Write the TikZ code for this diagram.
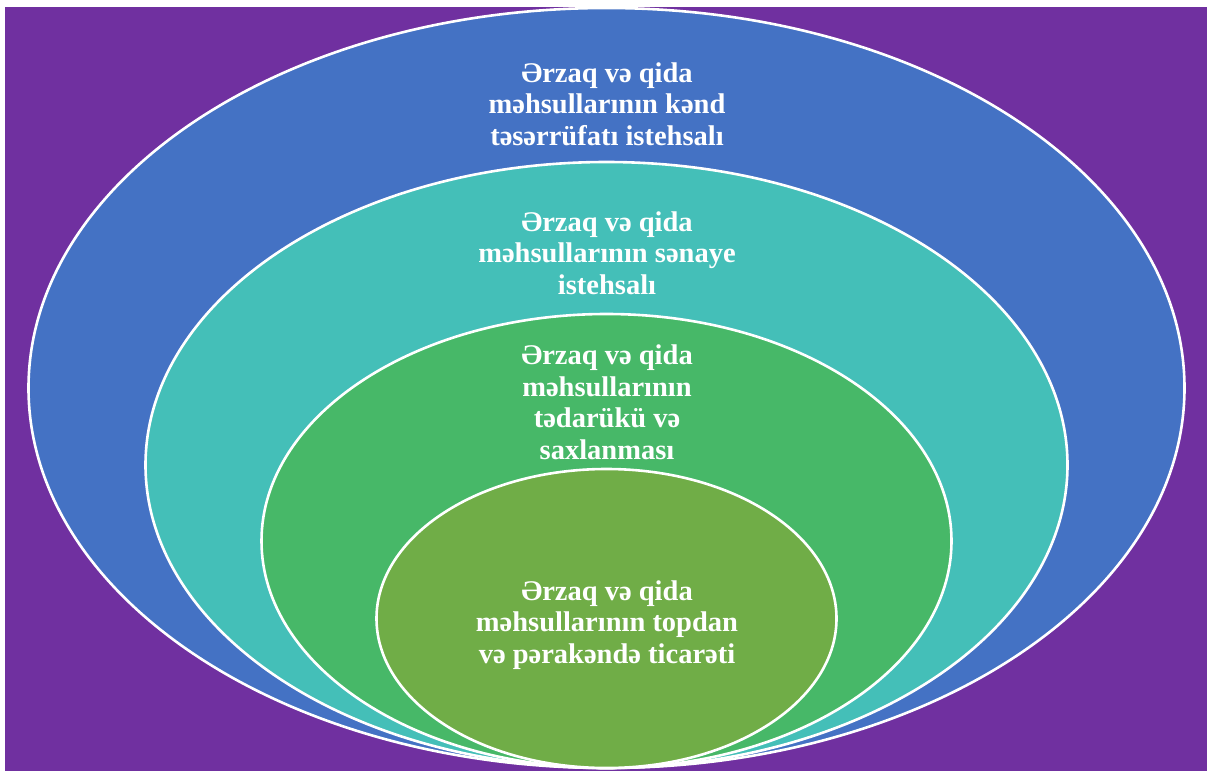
\documentclass[tikz,border=0pt]{standalone}
\usepackage{fontspec}
\setmainfont{Liberation Serif}
\definecolor{bgpurple}{HTML}{7030A0}
\definecolor{ringblue}{HTML}{4472C4}
\definecolor{ringteal}{HTML}{44BFB8}
\definecolor{ringgreen}{HTML}{47B868}
\definecolor{ringlime}{HTML}{70AD47}
\tikzset{
  ring/.style={draw=white, line width=2.6pt},
  ringtext/.style={text=white, font=\bfseries\fontsize{28.5}{31.5}\selectfont, align=center, inner sep=0pt}
}
\begin{document}
\begin{tikzpicture}[x=1pt,y=-1pt]
\useasboundingbox (0,0) rectangle (1207,771);
\fill[bgpurple] (5,7) rectangle (1207,771);
\path[ring, fill=ringblue] (606.5,388) ellipse [x radius=578, y radius=380];
\path[ring, fill=ringteal] (606.5,465) ellipse [x radius=461, y radius=303];
\path[ring, fill=ringgreen] (606.5,541) ellipse [x radius=345, y radius=227];
\path[ring, fill=ringlime] (606.5,618.5) ellipse [x radius=230, y radius=149.5];
\node[ringtext] (t1) at (607,104) {Ərzaq və qida\\məhsullarının kənd\\təsərrüfatı istehsalı};
\node[ringtext] (t2) at (607,253) {Ərzaq və qida\\məhsullarının sənaye\\istehsalı};
\node[ringtext] (t3) at (607,402) {Ərzaq və qida\\məhsullarının\\tədarükü və\\saxlanması};
\node[ringtext] (t4) at (607,625) {Ərzaq və qida\\məhsullarının topdan\\və pərakəndə ticarəti};
\end{tikzpicture}
\end{document}
